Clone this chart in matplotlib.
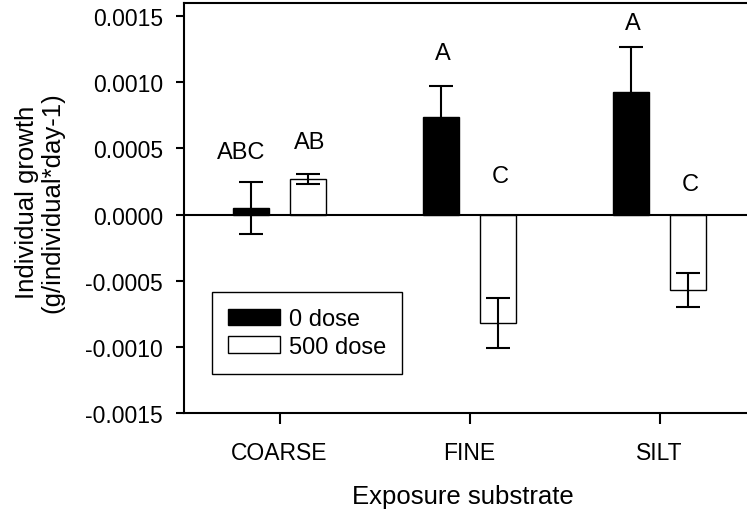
# Individual growth by exposure substrate, two dose levels
import numpy as np
import matplotlib
matplotlib.use('Agg')
import matplotlib.pyplot as plt

plt.rcParams['font.family'] = ['Liberation Sans', 'DejaVu Sans']

# Data
substrates = ['COARSE', 'FINE', 'SILT']
growth_0 = [0.00005, 0.00074, 0.00093]
err_0 = [0.00020, 0.00023, 0.00034]
growth_500 = [0.00027, -0.00082, -0.00057]
err_500 = [0.00004, 0.00019, 0.00013]

# Significance letters (y in data units)
letters_0 = ['ABC', 'A', 'A']
letters_0_y = [0.00047, 0.00122, 0.00145]
letters_500 = ['AB', 'C', 'C']
letters_500_y = [0.000546, 0.000292, 0.000228]

x = np.arange(len(substrates))
width = 0.19
off = 0.15

fig = plt.figure(figsize=(7.47, 5.10), dpi=100)
ax = fig.add_axes([184/747, 1 - 414/510, 1 - 184/747, 410/510])

ax.bar(x - off, growth_0, width, color='black', edgecolor='black',
       linewidth=1, label='0 dose', zorder=2)
ax.bar(x + off, growth_500, width, color='white', edgecolor='black',
       linewidth=1, label='500 dose', zorder=2)
ax.errorbar(x - off, growth_0, yerr=err_0, fmt='none', ecolor='black',
            elinewidth=1.5, capsize=8.5, capthick=1.5, zorder=3)
ax.errorbar(x + off, growth_500, yerr=err_500, fmt='none', ecolor='black',
            elinewidth=1.5, capsize=8.5, capthick=1.5, zorder=3)

ax.axhline(0, color='black', linewidth=1.5, zorder=4)

for i in range(len(substrates)):
    dx0 = -0.2 if i == 0 else -0.14
    ax.text(x[i] + dx0, letters_0_y[i], letters_0[i], ha='center', va='center',
            fontsize=17)
    ax.text(x[i] + 0.16, letters_500_y[i], letters_500[i], ha='center',
            va='center', fontsize=17)

ax.set_xlim(-0.503, 2.46)
ax.set_ylim(-0.0015, 0.0016)
ax.set_yticks(np.arange(-0.0015, 0.00151, 0.0005))
ax.yaxis.set_major_formatter(matplotlib.ticker.FormatStrFormatter('%.4f'))
ax.set_xticks(x)
ax.set_xticklabels(substrates)

ax.spines['right'].set_visible(False)
for s in ['left', 'bottom', 'top']:
    ax.spines[s].set_linewidth(1.5)
ax.tick_params(axis='y', length=6, width=1.5, pad=9, labelsize=16.5)
ax.tick_params(axis='x', length=8, width=1.5, pad=12, labelsize=16.5)

ax.set_ylabel('Individual growth\n(g/individual*day-1)', fontsize=18.5,
              linespacing=1.05)
ax.yaxis.set_label_coords(-0.213, 0.515)
ax.set_xlabel('Exposure substrate', fontsize=18.5)
ax.xaxis.set_label_coords(0.496, -0.172)

leg = ax.legend(loc='lower left', bbox_to_anchor=(0.049, 0.095),
                borderaxespad=0, fontsize=17, frameon=True, fancybox=False,
                edgecolor='black', handlelength=2.2, handleheight=0.72,
                handletextpad=0.36, labelspacing=0.22, borderpad=0.7)
leg.get_frame().set_linewidth(1)
leg.get_frame().set_alpha(1)

fig.savefig('out.png', dpi=100)
